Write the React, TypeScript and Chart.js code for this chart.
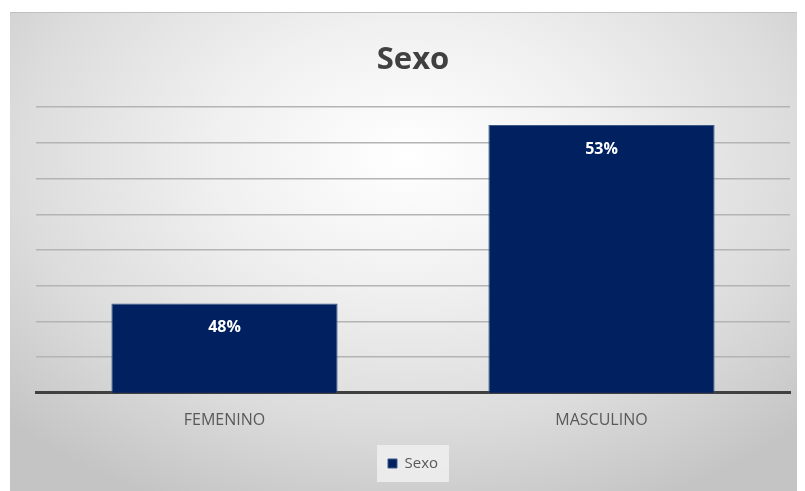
import React, { useEffect, useRef } from "react";
import { Chart, registerables } from "chart.js";

Chart.register(...registerables);

const categories = ["FEMENINO", "MASCULINO"];
const seriesName = "Sexo";
const values = [47.5, 52.5];
const yMin = 45;
const yMax = 53;
const yStep = 1;

const FONT = "'Open Sans', 'Noto Sans', sans-serif";

const dataLabelPlugin = {
  id: "dataLabels",
  afterDatasetsDraw(chart: any) {
    const ctx = chart.ctx;
    const meta = chart.getDatasetMeta(0);
    ctx.save();
    ctx.fillStyle = "#ffffff";
    ctx.font = `bold 16px ${FONT}`;
    ctx.textAlign = "center";
    ctx.textBaseline = "middle";
    meta.data.forEach((bar: any, i: number) => {
      ctx.fillText(Math.round(values[i]) + "%", bar.x, bar.y + 24);
    });
    ctx.restore();
  },
};

const legendBgPlugin = {
  id: "legendBg",
  beforeDraw(chart: any) {
    const lg = chart.legend;
    if (!lg || !lg.legendHitBoxes || !lg.legendHitBoxes.length) return;
    const hb = lg.legendHitBoxes[0];
    const ctx = chart.ctx;
    ctx.save();
    ctx.fillStyle = "rgba(240,240,240,0.85)";
    ctx.fillRect(hb.left - 11, hb.top - 11, hb.width + 22, hb.height + 22);
    ctx.restore();
  },
};

export default function App() {
  const ref = useRef<HTMLCanvasElement>(null);
  useEffect(() => {
    if (!ref.current) return;
    const chart = new Chart(ref.current, {
      type: "bar",
      data: {
        labels: categories,
        datasets: [
          {
            label: seriesName,
            data: values,
            backgroundColor: "#002060",
            borderColor: "#3a5a8a",
            borderWidth: 1,
            categoryPercentage: 0.6,
            barPercentage: 1,
          },
        ],
      },
      options: {
        animation: false,
        responsive: false,
        maintainAspectRatio: false,
        layout: { padding: { left: 26, right: 15, top: 0, bottom: 10 } },
        plugins: {
          title: {
            display: true,
            text: "Sexo",
            color: "#404040",
            font: { family: FONT, size: 31, weight: "bold" },
            padding: { top: 29, bottom: 28 },
          },
          legend: {
            position: "bottom",
            labels: {
              color: "#595959",
              font: { family: FONT, size: 15 },
              boxWidth: 9,
              boxHeight: 9,
              padding: 8,
            },
          },
          tooltip: { enabled: false },
        },
        scales: {
          x: {
            grid: { display: false, drawTicks: false },
            border: { display: true, color: "#404040", width: 3 },
            ticks: {
              color: "#595959",
              font: { family: FONT, size: 16 },
              padding: 18,
            },
          },
          y: {
            min: yMin,
            max: yMax,
            ticks: { display: false, stepSize: yStep },
            grid: {
              drawTicks: false,
              color: (c: any) => (c.tick && c.tick.value === yMin ? "rgba(0,0,0,0)" : "#b4b4b4"),
              lineWidth: 1.5,
            },
            border: { display: false },
          },
        },
      },
      plugins: [dataLabelPlugin, legendBgPlugin],
    });
    return () => chart.destroy();
  }, []);

  return (
    <div
      style={{
        marginLeft: 2,
        marginTop: 4,
        width: 795,
        height: 479,
        borderTop: "1px solid #c0c0c0",
        boxSizing: "border-box",
        background:
          "radial-gradient(ellipse 70% 80% at 50% 30%, #ffffff 0%, #f0f0f0 35%, #dcdcdc 70%, #c4c4c4 100%)",
      }}
    >
      <canvas ref={ref} width={795} height={478} style={{ display: "block" }} />
    </div>
  );
}
